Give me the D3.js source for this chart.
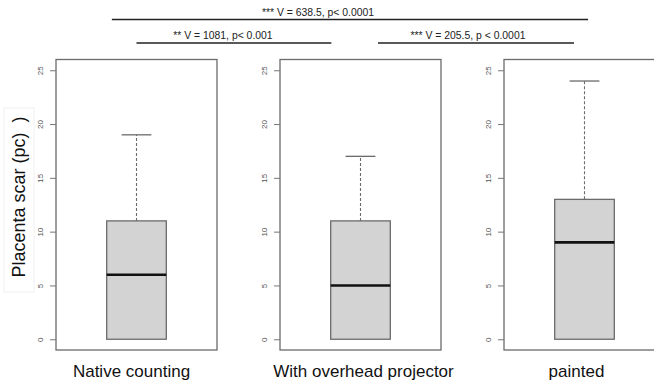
<!DOCTYPE html>
<html>
<head>
<meta charset="utf-8">
<script src="https://cdn.jsdelivr.net/npm/d3@7"></script>
<style>
  body { margin: 0; background: #fff; }
  svg { display: block; }
  text { font-family: Arial, "Liberation Sans", sans-serif; }
</style>
</head>
<body>
<svg width="654" height="385"></svg>
<script>
// data
var groups = ["Native counting", "With overhead projector", "painted"];
var lowWhisker = [0, 0, 0];
var q1 = [0, 0, 0];
var median = [6, 5, 9];
var q3 = [11, 11, 13];
var highWhisker = [19, 17, 24];
var yTicks = [0, 5, 10, 15, 20, 25];
var testLabels = ["*** V = 638.5, p< 0.0001", "** V = 1081, p< 0.001", "*** V = 205.5, p < 0.0001"];

var svg = d3.select("svg");

var panelLeft = 56, panelStep = 224, panelW = 161,
    frameTop = 59.5, frameBottom = 350;

var y = d3.scaleLinear().domain([-1, 26]).range([frameBottom, frameTop]);

// page-wide scale in group index units, used for the test brackets
var gx = d3.scaleLinear().domain([0, 2])
    .range([panelLeft + panelW / 2, panelLeft + 2 * panelStep + panelW / 2]);

var grey = "#6b6b6b";

groups.forEach(function(name, i) {
    var left = panelLeft + i * panelStep;
    var x = d3.scaleLinear().domain([0.46, 1.54]).range([left, left + panelW]);
    var g = svg.append("g");

    // frame
    g.append("rect")
        .attr("x", left).attr("y", frameTop)
        .attr("width", panelW).attr("height", frameBottom - frameTop)
        .attr("fill", "none").attr("stroke", grey).attr("stroke-width", 1.3);

    // y axis, R style
    var ax = g.append("g")
        .attr("transform", "translate(" + left + ",0)")
        .call(d3.axisLeft(y).tickValues(yTicks).tickSize(6).tickPadding(4));
    ax.select(".domain").remove();
    ax.selectAll(".tick line").attr("stroke", "#777").attr("stroke-width", 1);
    ax.selectAll(".tick text")
        .attr("fill", "#555")
        .style("font-size", "8px")
        .attr("text-anchor", "middle")
        .attr("x", 0).attr("dy", 0)
        .attr("transform", "translate(-15,0) rotate(-90)")
        .attr("dominant-baseline", "middle");

    // whisker (dashed) and cap
    g.append("line")
        .attr("x1", x(1)).attr("x2", x(1))
        .attr("y1", y(q3[i])).attr("y2", y(highWhisker[i]))
        .attr("stroke", grey).attr("stroke-width", 1.1)
        .attr("stroke-dasharray", "3,2");
    g.append("line")
        .attr("x1", x(0.9)).attr("x2", x(1.1))
        .attr("y1", y(highWhisker[i])).attr("y2", y(highWhisker[i]))
        .attr("stroke", grey).attr("stroke-width", 1.3);
    if (lowWhisker[i] < q1[i]) {
        g.append("line")
            .attr("x1", x(1)).attr("x2", x(1))
            .attr("y1", y(q1[i])).attr("y2", y(lowWhisker[i]))
            .attr("stroke", grey).attr("stroke-dasharray", "3,2");
    }

    // box
    g.append("rect")
        .attr("x", x(0.8)).attr("width", x(1.2) - x(0.8))
        .attr("y", y(q3[i])).attr("height", y(q1[i]) - y(q3[i]))
        .attr("fill", "#d3d3d3").attr("stroke", grey).attr("stroke-width", 1.3);

    // median
    g.append("line")
        .attr("x1", x(0.8)).attr("x2", x(1.2))
        .attr("y1", y(median[i])).attr("y2", y(median[i]))
        .attr("stroke", "#111").attr("stroke-width", 2.6);
});

// group labels under the panels
var labelShift = [-5, 3, -8];
svg.selectAll(".grp")
    .data(groups)
    .enter()
    .append("text")
    .attr("class", "grp")
    .attr("x", function(d, i) { return gx(i) + labelShift[i]; })
    .attr("y", 377)
    .attr("text-anchor", "middle")
    .style("font-size", "17px")
    .attr("fill", "#111")
    .text(function(d) { return d; });

// y label with its faint pasted box
svg.append("rect")
    .attr("x", 4).attr("y", 108).attr("width", 30).attr("height", 184)
    .attr("fill", "#fff").attr("stroke", "#f0f0f0");
svg.append("text")
    .attr("transform", "translate(25,197) rotate(-90)")
    .attr("text-anchor", "middle")
    .style("font-size", "18px")
    .style("white-space", "pre")
    .attr("fill", "#111")
    .text("Placenta scar (pc)  )");

// test brackets
var brackets = [
    { from: -0.11, to: 2.016, y: 19.5, shift: -32, label: testLabels[0] },
    { from: 0, to: 0.87, y: 43, shift: -11, label: testLabels[1] },
    { from: 1.078, to: 1.953, y: 43, shift: -8, label: testLabels[2] }
];
brackets.forEach(function(b) {
    svg.append("line")
        .attr("x1", gx(b.from)).attr("x2", gx(b.to))
        .attr("y1", b.y).attr("y2", b.y)
        .attr("stroke", "#222").attr("stroke-width", 1.4);
    svg.append("text")
        .attr("x", (gx(b.from) + gx(b.to)) / 2 + b.shift)
        .attr("y", b.y - 4)
        .attr("text-anchor", "middle")
        .style("font-size", "10.4px")
        .attr("fill", "#222")
        .text(b.label);
});
</script>
</body>
</html>
